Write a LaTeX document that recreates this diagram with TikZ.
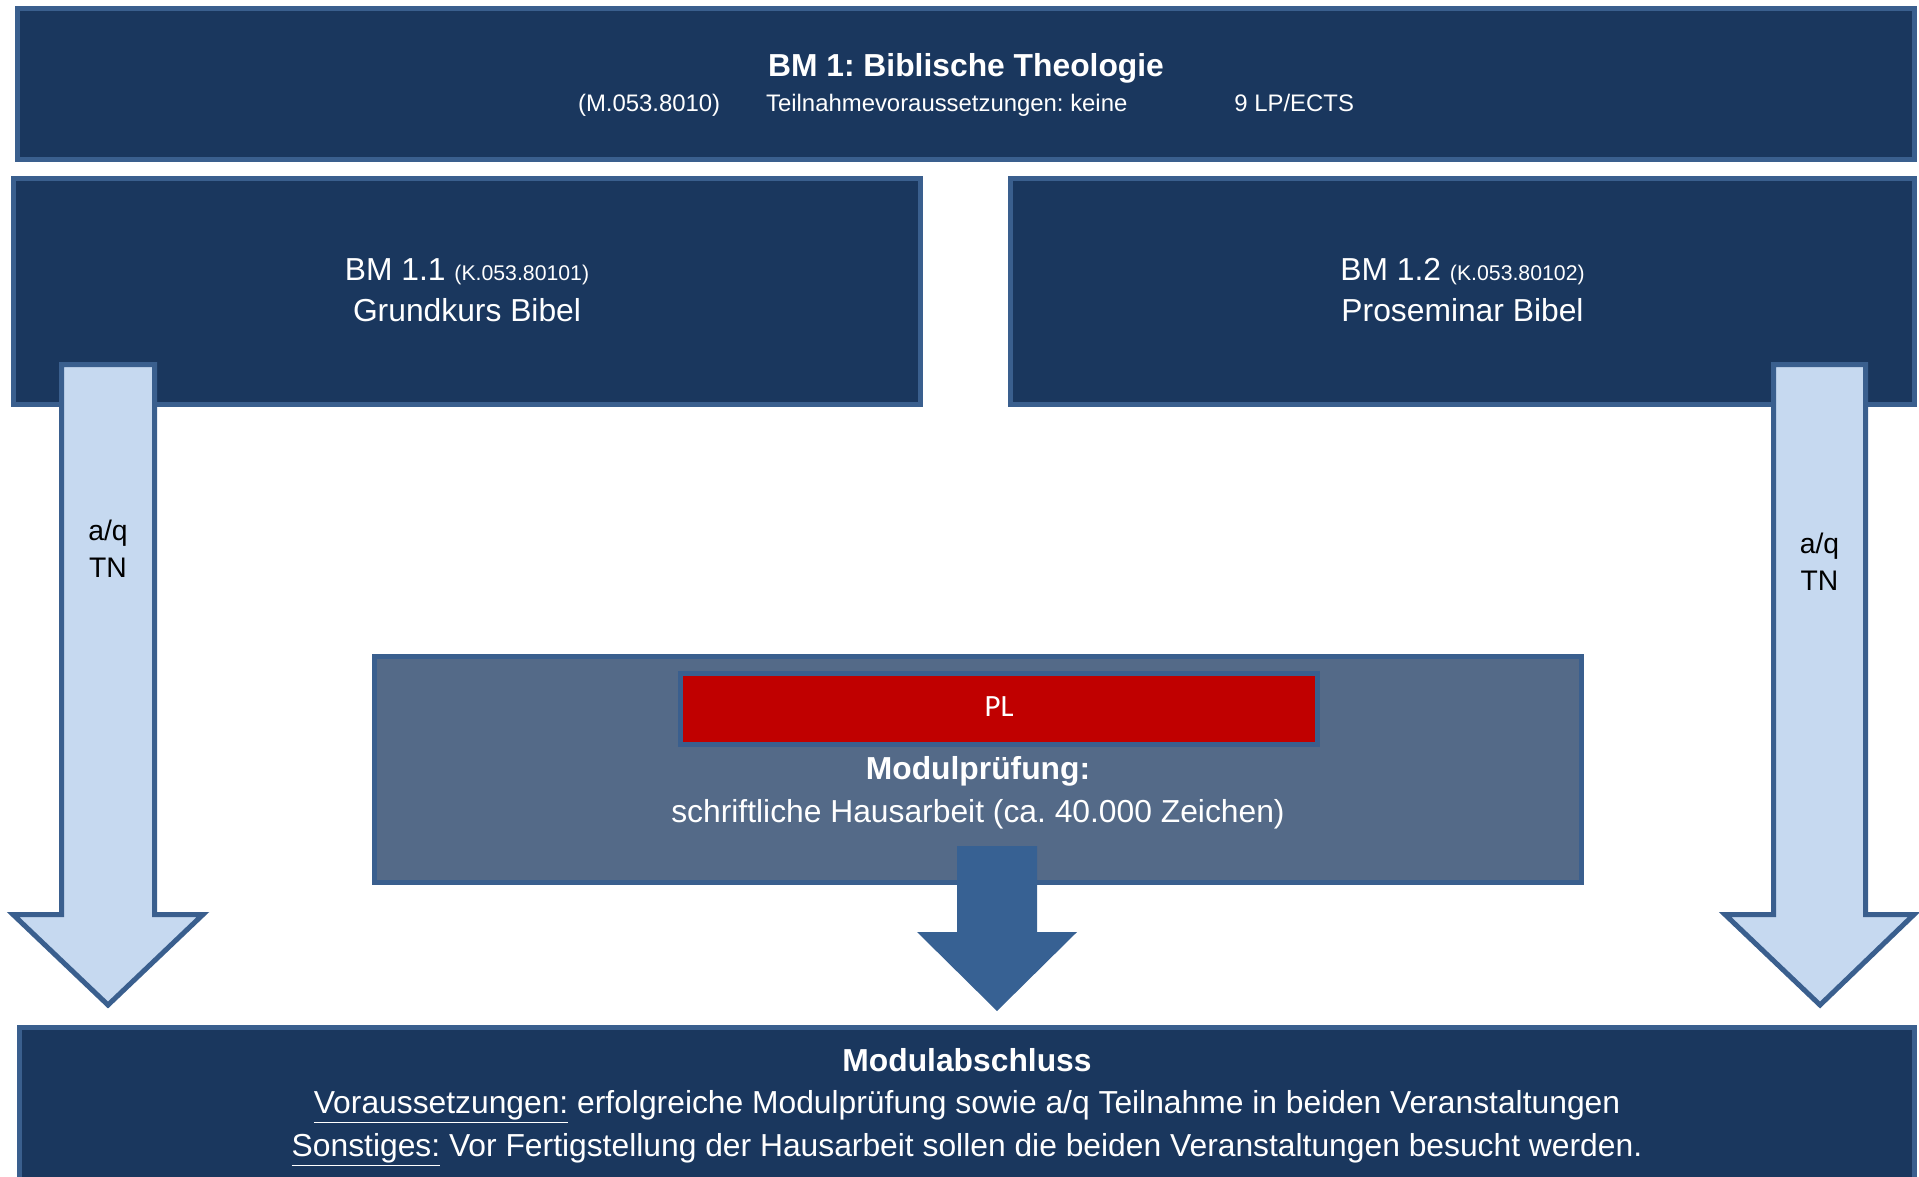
\documentclass[tikz,border=0pt]{standalone}
\usepackage{fontspec}
\setmainfont{Liberation Sans}
\newfontfamily\plfont{Carlito}
\usetikzlibrary{positioning}
\definecolor{navy}{HTML}{1A375E}
\definecolor{rim}{HTML}{3A5F8E}
\definecolor{slate}{HTML}{546A88}
\definecolor{pale}{HTML}{C6D9F0}
\definecolor{steel}{HTML}{376193}
\definecolor{plred}{HTML}{C00000}
\frenchspacing

\begin{document}
\begin{tikzpicture}[x=0.02cm,y=-0.02cm,line width=0.1cm,
	box/.style={draw=rim,fill=navy,inner sep=0pt},
	txt/.style={text=white,anchor=base,inner sep=0pt,font=\fontsize{18.1}{21.8}\selectfont},
	info/.style={txt,font=\fontsize{13.6}{16}\selectfont},
	blockarrow/.style={draw=rim,fill=pale,line join=miter},
	tag/.style={align=center,inner sep=0pt,font=\fontsize{16.1}{21}\selectfont}]
	\useasboundingbox (0,0) rectangle (1919,1176);
	\clip (0,0) rectangle (1919,1176);
	\node[box,minimum width=37.94cm,minimum height=3.02cm] (bm) at (966,84) {};
	\node[box,minimum width=18.14cm,minimum height=4.52cm] (bm11) at (467,291.5) {};
	\node[box,minimum width=18.08cm,minimum height=4.52cm] (bm12) at (1462.5,291.5) {};
	\node[box,fill=slate,minimum width=24.14cm,minimum height=4.52cm] (pruef) at (978,769.5) {};
	\node[box,fill=plred,minimum width=12.74cm,minimum height=1.42cm,below=0.34cm of pruef.north,xshift=0.42cm] (pl) {};
	\node[box,minimum width=37.9cm,minimum height=4.4cm] (abschluss) at (967,1137.5) {};
	% Texte
	\node[txt,font=\bfseries\fontsize{18.1}{21.8}\selectfont] (bmtitle) at (966,77) {BM 1: Biblische Theologie};
	\node[info] (bminfo) at (966,112) {(M.053.8010)\hspace{0.92cm}Teilnahmevoraussetzungen: keine\hspace{2.14cm}9 LP/ECTS};
	\node[txt] (bm11a) at (467,280) {BM 1.1 {\fontsize{12.1}{14}\selectfont (K.053.80101)}};
	\node[txt] (bm11b) at (467,321.5) {Grundkurs Bibel};
	\node[txt] (bm12a) at (1462.5,280) {BM 1.2 {\fontsize{12.1}{14}\selectfont (K.053.80102)}};
	\node[txt] (bm12b) at (1462.5,321.5) {Proseminar Bibel};
	\node[txt,font=\plfont\fontsize{17.6}{20}\selectfont] (pltext) at (999,716) {PL};
	\node[txt,font=\bfseries\fontsize{18.1}{21.8}\selectfont] (pruefa) at (978,779.5) {Modulprüfung:};
	\node[txt] (pruefb) at (978,822.5) {schriftliche Hausarbeit (ca. 40.000 Zeichen)};
	\node[txt,font=\bfseries\fontsize{18.1}{21.8}\selectfont] (absa) at (967,1071.5) {Modulabschluss};
	\node[txt] (absb) at (967,1113.5) {\underline{Voraussetzungen:} erfolgreiche Modulprüfung sowie a/q Teilnahme in beiden Veranstaltungen};
	\node[txt] (absc) at (967,1156.5) {\underline{Sonstiges:} Vor Fertigstellung der Hausarbeit sollen die beiden Veranstaltungen besucht werden.};
	% Pfeile
	\draw[blockarrow] (61.5,364.5) -- (154.5,364.5) -- (154.5,914.5) -- (203,914.5) -- (108,1005) -- (13,914.5) -- (61.5,914.5) -- cycle;
	\draw[blockarrow] (1773.5,364.5) -- (1865.5,364.5) -- (1865.5,914.5) -- (1914,914.5) -- (1820,1005) -- (1725,914.5) -- (1773.5,914.5) -- cycle;
	\fill[steel] (957,846) -- (1037,846) -- (1037,932) -- (1077,932) -- (997,1011) -- (917,932) -- (957,932) -- cycle;
	\node[tag] (aq1) at (108,548.5) {a/q\\TN};
	\node[tag] (aq2) at (1819.5,561.5) {a/q\\TN};
\end{tikzpicture}
\end{document}
